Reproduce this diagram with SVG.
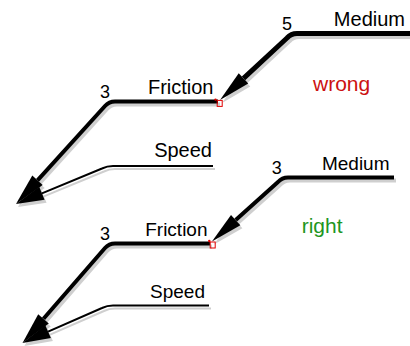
<svg xmlns="http://www.w3.org/2000/svg" width="410" height="346" viewBox="0 0 410 346">
<style>
text{font-family:"Liberation Sans",Arial,sans-serif;fill:#000}
.lbl{font-size:20px;text-anchor:end}
.lbl2{font-size:19px;text-anchor:end}
.num{font-size:18px}
.ln{fill:none;stroke:#000;stroke-linejoin:round}
.sh{fill:none;stroke:#cfcfcf;stroke-linejoin:round}
.mk{fill:none;stroke:#e00000;stroke-width:1}
</style>
<defs>
<marker id="ah" markerUnits="userSpaceOnUse" markerWidth="32" markerHeight="14" refX="0" refY="7" orient="auto" overflow="visible"><path d="M0,0 L32,7 L0,14 Z" fill="#000"/></marker>
<marker id="ahs" markerUnits="userSpaceOnUse" markerWidth="32" markerHeight="14" refX="0" refY="7" orient="auto" overflow="visible"><path d="M0,0 L32,7 L0,14 Z" fill="#cfcfcf"/></marker>
<marker id="ahm" markerUnits="userSpaceOnUse" markerWidth="28" markerHeight="14" refX="0" refY="7" orient="auto" overflow="visible"><path d="M0,0 L28,7 L0,14 Z" fill="#000"/></marker>
<marker id="ahms" markerUnits="userSpaceOnUse" markerWidth="28" markerHeight="14" refX="0" refY="7" orient="auto" overflow="visible"><path d="M0,0 L28,7 L0,14 Z" fill="#cfcfcf"/></marker>
</defs>
<rect width="410" height="346" fill="#fff"/>
<g id="connectors">
<g id="top-medium-conn">
<path class="sh" d="M410,33.5 H297 Q291,33.5 287,38 L243.5,78.3" stroke-width="5" marker-end="url(#ahs)" transform="translate(2,3)"/>
<path class="ln" d="M410,33.5 H297 Q291,33.5 287,38 L243.5,78.3" stroke-width="5" marker-end="url(#ah)"/>
</g>
<g id="top-friction-conn">
<path class="sh" d="M218,101.5 H115 Q109,101.5 105,106 L37.5,180.3" stroke-width="4" marker-end="url(#ahs)" transform="translate(2,3)"/>
<path class="ln" d="M218,101.5 H115 Q109,101.5 105,106 L37.5,180.3" stroke-width="4" marker-end="url(#ah)"/>
</g>
<g id="top-speed-conn">
<path class="sh" d="M213,166 H113 Q107,166 102,168.5 L41.9,193.3" stroke-width="2" marker-end="url(#ahms)" transform="translate(2,3)"/>
<path class="ln" d="M213,166 H113 Q107,166 102,168.5 L41.9,193.3" stroke-width="2" marker-end="url(#ahm)"/>
</g>
<g id="bottom-medium-conn">
<path class="sh" d="M394,177.5 H288 Q282,177.5 278,182 L235.7,220.1" stroke-width="4" marker-end="url(#ahs)" transform="translate(2,3)"/>
<path class="ln" d="M394,177.5 H288 Q282,177.5 278,182 L235.7,220.1" stroke-width="4" marker-end="url(#ah)"/>
</g>
<g id="bottom-friction-conn">
<path class="sh" d="M210,243.5 H115 Q109,243.5 105,248 L43.5,318.8" stroke-width="4" marker-end="url(#ahs)" transform="translate(2,3)"/>
<path class="ln" d="M210,243.5 H115 Q109,243.5 105,248 L43.5,318.8" stroke-width="4" marker-end="url(#ah)"/>
</g>
<g id="bottom-speed-conn">
<path class="sh" d="M209,305.5 H113 Q107,305.5 102,308 L48.1,331.7" stroke-width="2" marker-end="url(#ahms)" transform="translate(2,3)"/>
<path class="ln" d="M209,305.5 H113 Q107,305.5 102,308 L48.1,331.7" stroke-width="2" marker-end="url(#ahm)"/>
</g>
</g>
<g id="top-markers">
<rect class="mk" x="217.2" y="100.4" width="5" height="6"/>
<circle cx="215.5" cy="99.6" r="1.2" fill="#e00000"/>
</g>
<g id="bottom-markers">
<rect class="mk" x="210.2" y="242" width="5" height="6"/>
<circle cx="209.3" cy="241" r="1.2" fill="#e00000"/>
</g>
<g id="top-medium"><text class="lbl" x="405" y="26">Medium</text><text class="num" x="282" y="29.5">5</text></g>
<g id="top-friction"><text class="lbl" x="213.5" y="94">Friction</text><text class="num" x="100" y="98">3</text></g>
<g id="top-speed"><text class="lbl" x="212" y="157">Speed</text></g>
<g id="wrong-label"><text x="313" y="91" style="font-size:21px;fill:#cc1111">wrong</text></g>
<g id="bottom-medium"><text class="lbl2" x="389.5" y="170">Medium</text><text class="num" x="271.7" y="173.5">3</text></g>
<g id="bottom-friction"><text class="lbl2" x="207.5" y="236">Friction</text><text class="num" x="100" y="240">3</text></g>
<g id="bottom-speed"><text class="lbl2" x="205" y="297.5">Speed</text></g>
<g id="right-label"><text x="301.7" y="233" style="font-size:21px;fill:#1e961e">right</text></g>
</svg>
